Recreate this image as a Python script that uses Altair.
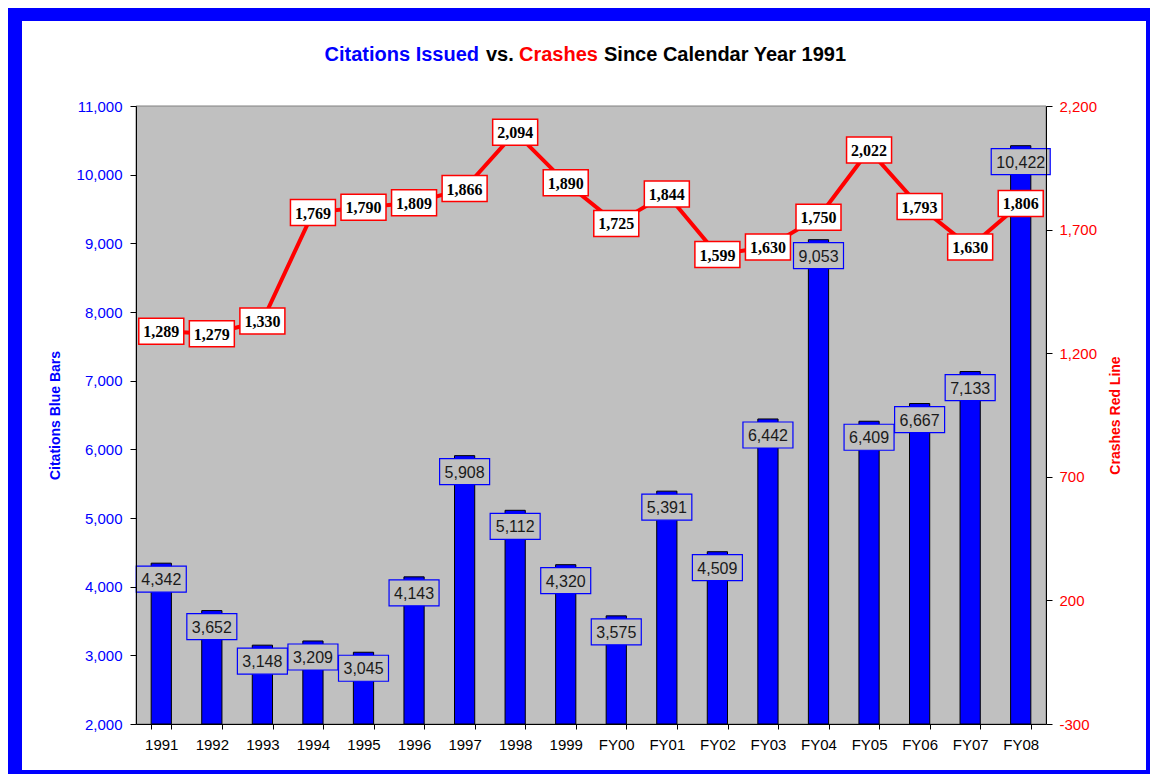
import altair as alt
import pandas as pd

years = ["1991", "1992", "1993", "1994", "1995", "1996", "1997", "1998", "1999",
         "FY00", "FY01", "FY02", "FY03", "FY04", "FY05", "FY06", "FY07", "FY08"]
citations = [4342, 3652, 3148, 3209, 3045, 4143, 5908, 5112, 4320,
             3575, 5391, 4509, 6442, 9053, 6409, 6667, 7133, 10422]
crashes = [1289, 1279, 1330, 1769, 1790, 1809, 1866, 2094, 1890,
           1725, 1844, 1599, 1630, 1750, 2022, 1793, 1630, 1806]

left_ticks = [2000, 3000, 4000, 5000, 6000, 7000, 8000, 9000, 10000, 11000]
right_ticks = [-300, 200, 700, 1200, 1700, 2200]

title_parts = ["Citations Issued", "vs.", "Crashes", "Since Calendar Year 1991"]
title_colors = ["#0000ff", "#000000", "#ff0000", "#000000"]

W, H = 910, 618
SANS = "Liberation Sans"
SERIF = "Liberation Serif"


def box_path(w, h):
    return f"M{-w/2},{-h/2}H{w/2}V{h/2}H{-w/2}Z"


df = pd.DataFrame({"year": years, "citations": citations, "crashes": crashes})
df["cit_label"] = [f"{v:,}" for v in citations]
df["cr_label"] = [f"{v:,}" for v in crashes]
df["cit_box"] = [box_path(59 if v >= 10000 else 50, 26) for v in citations]
df["cr_box"] = [box_path(45, 26) for _ in crashes]

one = pd.DataFrame({"a": [0]})

cit_scale = alt.Scale(domain=[2000, 11000], zero=False, nice=False)
cr_scale = alt.Scale(domain=[-300, 2200], zero=False, nice=False)

x_enc = alt.X(
    "year:N", sort=years,
    scale=alt.Scale(paddingInner=0.6, paddingOuter=0.3),
    axis=alt.Axis(title=None, labelAngle=0, tickBand="extent", labelColor="#000000",
                  labelFont=SANS, labelFontSize=15, tickSize=5, labelPadding=8,
                  domainColor="#000000", tickColor="#000000", zindex=1, grid=False),
)

left_axis = alt.Axis(
    orient="left", values=left_ticks, format=",.0f", grid=False, zindex=1,
    labelColor="#0000ff", labelFont=SANS, labelFontSize=15, labelPadding=8,
    tickSize=6, tickColor="#000000", domainColor="#000000",
    title="Citations Blue Bars", titleColor="#0000ff", titleFont=SANS,
    titleFontWeight="bold", titleFontSize=14, titleAngle=270,
    titleX=-81, titleY=H / 2, titleAlign="center", titleBaseline="middle",
)
right_axis = alt.Axis(
    orient="right", values=right_ticks, format=",.0f", grid=False, zindex=1,
    labelExpr="replace(datum.label, '\u2212', '-')",
    labelColor="#ff0000", labelFont=SANS, labelFontSize=15, labelPadding=7,
    tickSize=6, tickColor="#000000", domainColor="#000000",
    title="Crashes Red Line", titleColor="#ff0000", titleFont=SANS,
    titleFontWeight="bold", titleFontSize=14, titleAngle=270,
    titleX=69, titleY=H / 2, titleAlign="center", titleBaseline="middle",
)

frame = alt.Chart(one).mark_rect(color="#ffffff").encode(
    x=alt.value(-114), x2=alt.value(1010), y=alt.value(-85), y2=alt.value(664))

plot_bg = alt.Chart(one).mark_rect(fill="#c0c0c0", stroke="#808080", strokeWidth=1).encode(
    x=alt.value(0), x2=alt.value(W), y=alt.value(0), y2=alt.value(H))

bars = alt.Chart(df).mark_bar(color="#0000ff", stroke="#000000", strokeWidth=1).encode(
    x=x_enc,
    y=alt.Y("citations:Q", scale=cit_scale, axis=left_axis),
    y2=alt.datum(2000),
)

bar_boxes = alt.Chart(df).mark_point(
    filled=True, fill="#c0c0c0", stroke="#0000ff", strokeWidth=1.2,
    opacity=1, fillOpacity=1, strokeOpacity=1, size=4, yOffset=16,
).encode(
    x=x_enc,
    y=alt.Y("citations:Q", scale=cit_scale, axis=None),
    shape=alt.Shape("cit_box:N", scale=None, legend=None),
)

bar_text = alt.Chart(df).mark_text(
    font=SANS, fontSize=16, color="#1a1a1a", baseline="middle", align="center", dy=17,
).encode(
    x=x_enc,
    y=alt.Y("citations:Q", scale=cit_scale, axis=None),
    text="cit_label:N",
)

line = alt.Chart(df).mark_line(color="#ff0000", strokeWidth=4).encode(
    x=x_enc,
    y=alt.Y("crashes:Q", scale=cr_scale, axis=right_axis),
)

line_boxes = alt.Chart(df).mark_point(
    filled=True, fill="#ffffff", stroke="#ff0000", strokeWidth=1.5,
    opacity=1, fillOpacity=1, strokeOpacity=1, size=4,
).encode(
    x=x_enc,
    y=alt.Y("crashes:Q", scale=cr_scale, axis=None),
    shape=alt.Shape("cr_box:N", scale=None, legend=None),
)

line_text = alt.Chart(df).mark_text(
    font=SERIF, fontSize=16, fontWeight="bold", color="#000000",
    baseline="middle", align="center", dy=1,
).encode(
    x=x_enc,
    y=alt.Y("crashes:Q", scale=cr_scale, axis=None),
    text="cr_label:N",
)

title_x = [343, 350, 383, 468]
title_align = ["right", "left", "left", "left"]
title_layers = []
for txt, col, tx, al in zip(title_parts, title_colors, title_x, title_align):
    title_layers.append(
        alt.Chart(one).mark_text(
            text=txt, font=SANS, fontSize=20, fontWeight="bold", color=col,
            align=al, baseline="middle",
        ).encode(x=alt.value(tx), y=alt.value(-51))
    )

chart = alt.layer(
    frame, plot_bg, bars, bar_boxes, bar_text, line, line_boxes, line_text, *title_layers
).resolve_scale(y="independent").properties(
    width=W, height=H,
    background="#0000ff",
    padding={"left": 128, "top": 98, "right": 104, "bottom": 50},
    autosize=alt.AutoSizeParams(type="none"),
).configure_view(stroke="transparent", fill="transparent")

chart.save("out.html", embed_options={"renderer": "svg", "actions": False})
